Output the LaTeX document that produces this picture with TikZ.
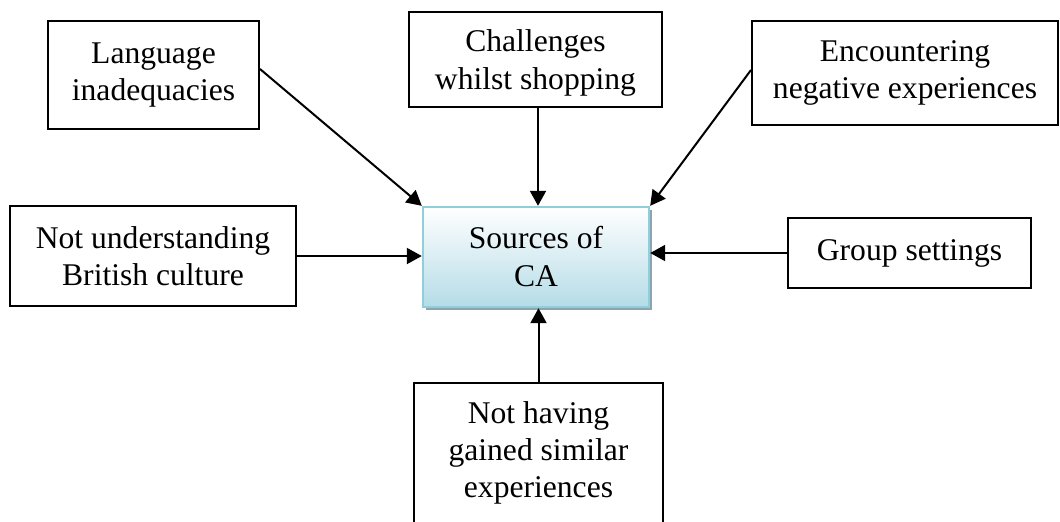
\documentclass[tikz,border=0pt]{standalone}
\usepackage{fontspec}
\setmainfont{Liberation Serif}
\usetikzlibrary{arrows.meta,shadows,calc}

\definecolor{srcfill}{HTML}{B4DCE7}
\definecolor{srcedge}{HTML}{92CDDC}
\definecolor{srcshadow}{HTML}{8AA5AD}

\tikzset{
  box/.style={draw=black, line width=1pt, fill=white, align=center,
    inner sep=0pt, font=\fontsize{15.8}{18.6}\selectfont},
  boxtext/.style={align=center, inner sep=0pt,
    font=\fontsize{15.8}{18.6}\selectfont},
  centre/.style={draw=srcedge, line width=1.2pt, top color=white,
    bottom color=srcfill, align=center, inner sep=0pt,
    font=\fontsize{15.8}{19}\selectfont,
    drop shadow={shadow xshift=1.6pt, shadow yshift=-1.6pt,
      fill=srcshadow, opacity=1}},
  link/.style={line width=1pt, -{Triangle[length=7.5pt,width=8pt]}}
}

\begin{document}
\begin{tikzpicture}[x=0.5pt,y=-0.5pt]
  \useasboundingbox (0,0) rectangle (1060,521);

  % central box
  \node[centre, minimum width=113pt, minimum height=50pt] (src) at (536,257)
    {Sources of\\CA};

  % surrounding boxes
  \node[box, minimum width=105.5pt, minimum height=54pt] (lang) at (153.5,75)
    {Language\\inadequacies};
  \node[box, minimum width=126.5pt, minimum height=47.5pt] (chal) at (535.5,59.5) {};
  \node[boxtext] (chaltext) at (535.5,63)
    {Challenges\\whilst shopping};
  \node[box, minimum width=153pt, minimum height=52pt] (enc) at (905,73)
    {Encountering\\negative experiences};
  \node[box, minimum width=143pt, minimum height=50pt] (nub) at (153,256)
    {Not understanding\\British culture};
  \node[box, minimum width=121.5pt, minimum height=35pt] (grp) at (909.5,253)
    {Group settings};
  \node[box, minimum width=124.5pt, minimum height=76pt, anchor=north] (nh)
    at (538.5,382) {};
  \node[boxtext] (nhtext) at (538.5,453)
    {Not having\\gained similar\\experiences};

  % connector start points
  \coordinate (langout) at ($(lang.east)+(0,-6)$);
  \coordinate (chalout) at ($(chal.south)+(2.5,0)$);
  \coordinate (encout) at ($(enc.west)+(0,-3)$);

  % connectors
  \draw[link] (langout) -- (src.north west);
  \draw[link] (chalout) -- (chalout |- src.north);
  \draw[link] (encout) -- (src.north east);
  \draw[link] (nub.east) -- (nub.east -| src.west);
  \draw[link] (grp.west) -- (src.east |- grp.west);
  \draw[link] (nh.north) -- (nh.north |- src.south);
\end{tikzpicture}
\end{document}
